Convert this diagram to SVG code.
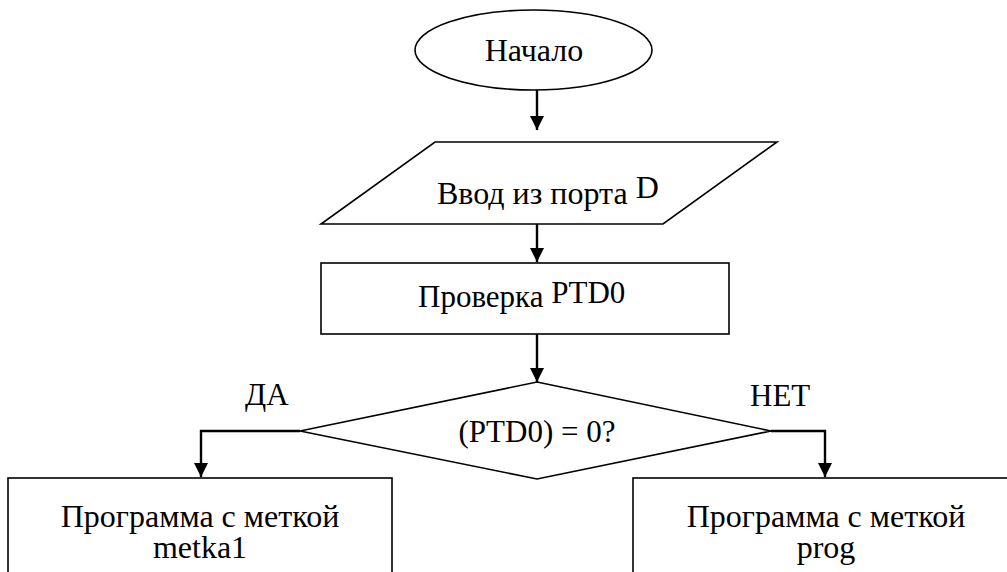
<svg xmlns="http://www.w3.org/2000/svg" width="1007" height="572" viewBox="0 0 1007 572">
  <style>
    .shape { fill: #fff; stroke: #000; stroke-width: 1.6; }
    .conn { fill: none; stroke: #000; stroke-width: 2.4; }
    text { font-family: 'Liberation Serif', 'Times New Roman', serif; font-size: 31px; fill: #000; }
    .big { font-size: 32px; }
    .c { text-anchor: middle; }
  </style>
  <defs>
    <marker id="arrow" viewBox="0 0 10 10" refX="10" refY="5" markerWidth="14" markerHeight="14" markerUnits="userSpaceOnUse" orient="auto">
      <path d="M0,0 L10,5 L0,10 Z" fill="#000"/>
    </marker>
  </defs>

  <g id="connectors">
    <line class="conn" x1="537" y1="90" x2="537" y2="130" marker-end="url(#arrow)"/>
    <line class="conn" x1="537" y1="224" x2="537" y2="262" marker-end="url(#arrow)"/>
    <line class="conn" x1="537" y1="334" x2="537" y2="382" marker-end="url(#arrow)"/>
    <polyline class="conn" points="300,431 201,431 201,477" marker-end="url(#arrow)"/>
    <polyline class="conn" points="771,431 825,431 825,477" marker-end="url(#arrow)"/>
  </g>

  <g id="start">
    <ellipse class="shape" cx="533.5" cy="50" rx="118.5" ry="40"/>
    <text class="c big" x="534" y="61">Начало</text>
  </g>

  <g id="input">
    <polygon class="shape" points="435,142 777,142 663,224 321,224"/>
    <text class="big" x="437" y="204">Ввод из порта <tspan dy="-6">D</tspan></text>
  </g>

  <g id="check">
    <rect class="shape" x="321" y="263" width="408" height="71"/>
    <text x="418" y="307">Проверка <tspan dy="-4">PTD0</tspan></text>
  </g>

  <g id="decision">
    <polygon class="shape" points="537,382 771,431 537,479 300,431"/>
    <text class="c" x="537" y="442">(PTD0) = 0?</text>
    <text x="245" y="405">ДА</text>
    <text x="750" y="406">НЕТ</text>
  </g>

  <g id="branch-yes">
    <rect class="shape" x="8" y="478" width="384" height="110"/>
    <text class="c big" x="200" y="527">Программа с меткой</text>
    <text class="c big" x="200" y="558">metka1</text>
  </g>

  <g id="branch-no">
    <rect class="shape" x="633" y="478" width="390" height="110"/>
    <text class="c big" x="826" y="527">Программа с меткой</text>
    <text class="c big" x="826" y="558">prog</text>
  </g>
</svg>
